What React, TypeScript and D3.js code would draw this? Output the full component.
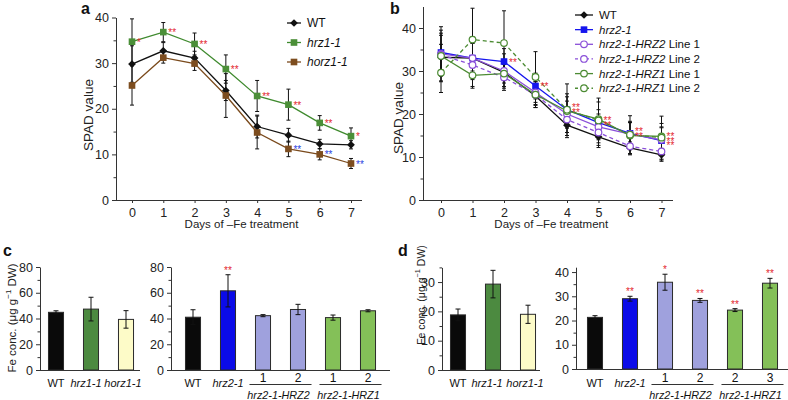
import React, { useEffect, useRef } from 'react';
import * as d3 from 'd3';

const FONT = '"Liberation Sans", Arial, Helvetica, sans-serif';
const RED = '#e3262e';
const BLUE_STAR = '#2a3fe0';

const days = [0, 1, 2, 3, 4, 5, 6, 7];

// panel a
const aWT = [29.8, 32.7, 31.1, 24.0, 16.1, 14.2, 12.3, 12.1];
const aWTErr = [4.0, 1.8, 1.5, 2.2, 2.5, 1.5, 1.0, 0.9];
const aHrz1 = [34.7, 36.8, 34.2, 28.7, 22.8, 20.9, 16.9, 14.0];
const aHrz1Err = [5.0, 2.1, 2.4, 3.1, 3.4, 3.4, 1.6, 1.8];
const aHorz1 = [25.1, 31.2, 29.9, 22.9, 14.8, 11.2, 10.0, 8.0];
const aHorz1Err = [4.3, 1.2, 1.5, 4.8, 3.6, 1.7, 1.2, 1.1];
const aHrz1Stars = ['*', '**', '**', '**', '**', '**', '**', '*'];
const aHorz1Stars = ['', '', '', '', '', '**', '**', '**'];

// panel b
const bWT = [33.2, 33.0, 29.7, 24.2, 17.4, 14.7, 12.1, 10.5];
const bWTErr = [3.0, 3.5, 2.5, 2.0, 2.9, 2.5, 1.4, 1.5];
const bHrz2 = [34.3, 33.0, 32.2, 26.5, 21.0, 18.0, 15.5, 13.8];
const bHrz2Err = [4.0, 4.0, 3.0, 3.0, 3.0, 3.0, 2.5, 3.0];
const bHRZ2L1 = [34.0, 33.0, 30.0, 25.0, 20.0, 17.0, 15.3, 14.0];
const bHRZ2L1Err = [6.3, 5.0, 4.0, 3.0, 3.0, 3.0, 3.0, 3.0];
const bHRZ2L2 = [33.8, 31.4, 28.5, 24.5, 18.7, 15.7, 12.5, 11.3];
const bHRZ2L2Err = [5.0, 5.0, 3.0, 3.0, 3.0, 3.0, 2.0, 2.0];
const bHRZ1L1 = [33.5, 29.0, 29.4, 24.5, 20.7, 18.8, 15.0, 14.8];
const bHRZ1L1Err = [6.0, 3.0, 3.0, 3.0, 4.0, 4.0, 3.0, 3.0];
const bHRZ1L2 = [29.6, 37.3, 36.5, 28.6, 21.0, 18.5, 15.2, 14.5];
const bHRZ1L2Err = [4.6, 7.3, 7.5, 5.9, 6.0, 5.2, 4.4, 5.0];
const bStarRows = [0, 0, 1, 1, 2, 2, 2, 3];

// panel c
const cLeftCats = ['WT', 'hrz1-1', 'horz1-1'];
const cLeftVals = [44.8, 47.3, 39.3];
const cLeftErr = [1.2, 9.2, 6.8];
const cRightCats = ['WT', 'hrz2-1', '1', '2', '1', '2'];
const cRightVals = [41.0, 61.5, 42.2, 47.0, 40.7, 46.0];
const cRightErr = [5.8, 12.5, 0.8, 4.0, 2.0, 0.8];
const cRightStars = ['', '**', '', '', '', ''];

// panel d
const dLeftVals = [18.8, 29.3, 19.0];
const dLeftErr = [2.0, 4.7, 3.1];
const dRightCats = ['WT', 'hrz2-1', '1', '2', '2', '3'];
const dRightVals = [21.3, 29.0, 35.8, 28.3, 24.3, 35.4];
const dRightErr = [0.7, 1.0, 3.3, 0.8, 0.6, 2.0];
const dRightStars = ['', '**', '*', '**', '**', '**'];

const leftFills = ['#0a0a0a', '#4c8a40', '#fdfbc8'];
const rightFills = ['#0a0a0a', '#0b0be8', '#9fa1dd', '#9fa1dd', '#84c058', '#84c058'];
const leftItalic = [false, true, true];
const rightItalic = [false, true, false, false, false, false];
const groups = [
  { name: 'hrz2-1-HRZ2', from: 2, to: 3 },
  { name: 'hrz2-1-HRZ1', from: 4, to: 5 },
];

type Sel = d3.Selection<SVGGElement, unknown, null, undefined>;

function drawMarker(g: Sel, kind: string, color: string, cx: number, cy: number) {
  if (kind === 'diamond') {
    g.append('path').attr('d', d3.symbol(d3.symbolSquare, 30)()!)
      .attr('transform', `translate(${cx},${cy}) rotate(45)`).attr('fill', color);
  } else if (kind === 'square') {
    g.append('path').attr('d', d3.symbol(d3.symbolSquare, 44)()!)
      .attr('transform', `translate(${cx},${cy})`).attr('fill', color);
  } else {
    g.append('circle').attr('cx', cx).attr('cy', cy).attr('r', 3.3)
      .attr('fill', 'white').attr('stroke', color).attr('stroke-width', 1.2);
  }
}

function styleAxis(ax: Sel, size = 12.5) {
  ax.attr('font-family', FONT).attr('font-size', size);
  ax.selectAll('text').attr('fill', '#222');
  ax.selectAll('line,path').attr('stroke', '#333');
}

function yAxes(svg: Sel, y: d3.ScaleLinear<number, number>, axisX: number, major: number[], minor: number[]) {
  const ax = svg.append('g').attr('transform', `translate(${axisX},0)`)
    .call(d3.axisLeft(y).tickValues(major).tickSize(4).tickSizeOuter(0).tickPadding(3));
  styleAxis(ax);
  const mn = svg.append('g').attr('transform', `translate(${axisX},0)`)
    .call(d3.axisLeft(y).tickValues(minor).tickSize(2.5).tickFormat(() => ''));
  mn.select('.domain').remove();
  styleAxis(mn);
}

function drawLinePanel(svg: Sel, cfg: any) {
  const { x, y, axisX, axisEnd, series } = cfg;
  yAxes(svg, y, axisX, [0, 10, 20, 30, 40], [5, 15, 25, 35]);
  const xa = svg.append('g').attr('transform', `translate(0,${y(0)})`)
    .call(d3.axisBottom(x).tickValues(days).tickFormat(d3.format('d')).tickSize(3).tickPadding(5));
  xa.select('.domain').remove();
  styleAxis(xa);
  svg.append('line').attr('x1', axisX).attr('x2', axisEnd).attr('y1', y(0) + 0.5).attr('y2', y(0) + 0.5)
    .attr('stroke', '#333');

  svg.append('text').attr('x', (x(0) + x(7)) / 2).attr('y', y(0) + 28).attr('text-anchor', 'middle')
    .attr('font-family', FONT).attr('font-size', 11.5).attr('fill', '#222').text('Days of \u2013Fe treatment');
  svg.append('text').attr('transform', `translate(${cfg.titleX},${cfg.titleY}) rotate(-90)`)
    .attr('text-anchor', 'middle').attr('dominant-baseline', 'central')
    .attr('font-family', FONT).attr('font-size', 13.5).attr('fill', '#222').text('SPAD value');

  // error bars
  series.forEach((s: any) => {
    days.forEach((d, i) => {
      const cx = x(d);
      const top = y(s.vals[i] + s.errs[i]);
      const bot = y(s.vals[i] - s.errs[i]);
      svg.append('line').attr('x1', cx).attr('x2', cx).attr('y1', top).attr('y2', bot).attr('stroke', '#111').attr('stroke-width', 1);
      [top, bot].forEach(yy => svg.append('line').attr('x1', cx - 2).attr('x2', cx + 2).attr('y1', yy).attr('y2', yy)
        .attr('stroke', '#111').attr('stroke-width', 1));
    });
  });
  const line = d3.line<number>().x((_, i) => x(days[i])).y(v => y(v));
  series.forEach((s: any) => {
    svg.append('path').datum(s.vals).attr('fill', 'none').attr('stroke', s.color).attr('stroke-width', 1.3)
      .attr('stroke-dasharray', s.dashed ? '4,3' : null).attr('d', line);
  });
  series.forEach((s: any) => {
    days.forEach((d, i) => drawMarker(svg, s.marker, s.markerColor || s.color, x(d), y(s.vals[i])));
  });

  // legend
  const lg = svg.append('g').attr('font-family', FONT).attr('font-size', cfg.legendFont).attr('fill', '#111');
  series.forEach((s: any, i: number) => {
    const ly = cfg.legendY + i * cfg.legendStep;
    lg.append('line').attr('x1', cfg.legendX).attr('x2', cfg.legendX + cfg.legendLen).attr('y1', ly).attr('y2', ly)
      .attr('stroke', s.color).attr('stroke-width', 1.3).attr('stroke-dasharray', s.dashed ? '3,2.5' : null);
    drawMarker(lg, s.marker, s.markerColor || s.color, cfg.legendX + cfg.legendLen / 2, ly);
    const t = lg.append('text').attr('x', cfg.legendX + cfg.legendLen + 6).attr('y', ly).attr('dominant-baseline', 'central');
    t.append('tspan').attr('font-style', s.italic ? 'italic' : 'normal').text(s.name);
    if (s.suffix) t.append('tspan').text(s.suffix);
  });
}

function drawBarPanel(svg: Sel, cfg: any) {
  const { x0, n, axisX, axisEnd, y, major, minor, vals, errs, fills, labels, italics, stars, grp } = cfg;
  const shift: number[] = cfg.labelShift || [];
  const band = d3.scaleBand<number>().domain(d3.range(n)).range([x0, x0 + n * 35]).paddingInner(0.57).paddingOuter(0.285);
  yAxes(svg, y, axisX, major, minor);
  const bw = band.bandwidth();
  vals.forEach((v: number, i: number) => {
    const bx = band(i)!;
    svg.append('rect').attr('x', bx).attr('y', y(v)).attr('width', bw).attr('height', y(0) - y(v))
      .attr('fill', fills[i]).attr('stroke', '#2a2a2a').attr('stroke-width', 1);
    const cx = bx + bw / 2;
    const top = y(v + errs[i]);
    const bot = y(v - errs[i]);
    svg.append('line').attr('x1', cx).attr('x2', cx).attr('y1', top).attr('y2', bot).attr('stroke', '#111');
    [top, bot].forEach(yy => svg.append('line').attr('x1', cx - 2.5).attr('x2', cx + 2.5).attr('y1', yy).attr('y2', yy).attr('stroke', '#111'));
    if (stars && stars[i]) {
      svg.append('text').attr('x', cx).attr('y', top - 1).attr('text-anchor', 'middle')
        .attr('font-family', FONT).attr('font-size', 10).attr('fill', RED).text(stars[i]);
    }
    const isNum = /^\d$/.test(labels[i]);
    svg.append('text').attr('x', cx + (shift[i] || 0)).attr('y', isNum ? 382 : 387).attr('text-anchor', 'middle')
      .attr('font-family', FONT).attr('font-size', isNum ? 12 : 11).attr('fill', '#111')
      .attr('font-style', italics[i] ? 'italic' : 'normal').text(labels[i]);
  });
  svg.append('line').attr('x1', axisX).attr('x2', axisEnd).attr('y1', y(0) + 0.5).attr('y2', y(0) + 0.5).attr('stroke', '#333');
  if (grp) {
    grp.forEach((g: any) => {
      const a = band(g.from)! - 6;
      const b = band(g.to)! + bw + 6;
      svg.append('line').attr('x1', a).attr('x2', b).attr('y1', 384.5).attr('y2', 384.5).attr('stroke', '#333');
      svg.append('text').attr('x', (a + b) / 2 - 2).attr('y', 399).attr('text-anchor', 'middle')
        .attr('font-family', FONT).attr('font-size', 10.8).attr('font-style', 'italic').attr('fill', '#111').text(g.name);
    });
  }
}

function feLabel(svg: Sel, cx: number, cy: number, size: number) {
  const t = svg.append('text').attr('transform', `translate(${cx},${cy}) rotate(-90)`)
    .attr('text-anchor', 'middle').attr('dy', '0.35em')
    .attr('font-family', FONT).attr('font-size', size).attr('fill', '#222');
  t.append('tspan').text('Fe conc. (\u03bcg g');
  t.append('tspan').attr('font-size', size * 0.7).attr('dy', -size * 0.4).text('\u22121');
  t.append('tspan').attr('dy', size * 0.4).text(' DW)');
}

function panelLabel(svg: Sel, x: number, y: number, s: string) {
  svg.append('text').attr('x', x).attr('y', y).attr('font-family', FONT).attr('font-size', 16)
    .attr('font-weight', 'bold').attr('fill', '#111').text(s);
}

// stacked significance marks drawn as a single text with one tspan per row
function starStack(svg: Sel, x: number, yMid: number, rows: number, text: string, color: string) {
  const t = svg.append('text').attr('font-family', FONT).attr('font-size', 10).attr('fill', color);
  for (let r = 0; r < rows; r++) {
    t.append('tspan').attr('x', x).attr('y', yMid + 4 + (r - (rows - 1) / 2) * 4.5).text(text);
  }
}

export default function App() {
  const ref = useRef<SVGSVGElement>(null);

  useEffect(() => {
    const root = d3.select(ref.current);
    root.selectAll('*').remove();
    const svg = root.append('g') as unknown as Sel;

    // ---- a ----
    const xA = d3.scaleLinear().domain([0, 7]).range([132, 351]);
    const yA = d3.scaleLinear().domain([0, 40]).range([200, 17.5]);
    drawLinePanel(svg, {
      x: xA, y: yA, axisX: 116, axisEnd: 362, titleX: 88, titleY: 115,
      legendX: 287, legendLen: 14, legendY: 23, legendStep: 19.5, legendFont: 12,
      series: [
        { name: 'WT', vals: aWT, errs: aWTErr, color: '#111', marker: 'diamond' },
        { name: 'hrz1-1', vals: aHrz1, errs: aHrz1Err, color: '#3f8a2e', markerColor: '#4b8f38', marker: 'square', italic: true },
        { name: 'horz1-1', vals: aHorz1, errs: aHorz1Err, color: '#7a4a1c', markerColor: '#7d4d1f', marker: 'square', italic: true },
      ],
    });
    days.forEach((d, i) => {
      if (aHrz1Stars[i]) starStack(svg, xA(d) + 5, yA(aHrz1[i]), 1, aHrz1Stars[i], RED);
      if (aHorz1Stars[i]) starStack(svg, xA(d) + 5, yA(aHorz1[i]), 1, aHorz1Stars[i], BLUE_STAR);
    });
    panelLabel(svg, 81, 14, 'a');

    // ---- b ----
    const xB = d3.scaleLinear().domain([0, 7]).range([441, 661.5]);
    const yB = d3.scaleLinear().domain([0, 45]).range([200, 6.5]);
    drawLinePanel(svg, {
      x: xB, y: yB, axisX: 423, axisEnd: 673, titleX: 398, titleY: 118,
      legendX: 575, legendLen: 18, legendY: 15, legendStep: 14.65, legendFont: 11.5,
      series: [
        { name: 'WT', vals: bWT, errs: bWTErr, color: '#111', marker: 'diamond' },
        { name: 'hrz2-1', vals: bHrz2, errs: bHrz2Err, color: '#1616ee', marker: 'square', italic: true },
        { name: 'hrz2-1-HRZ2', suffix: ' Line 1', vals: bHRZ2L1, errs: bHRZ2L1Err, color: '#8a4fd8', marker: 'circle', italic: true },
        { name: 'hrz2-1-HRZ2', suffix: ' Line 2', vals: bHRZ2L2, errs: bHRZ2L2Err, color: '#8a4fd8', marker: 'circle', italic: true, dashed: true },
        { name: 'hrz2-1-HRZ1', suffix: ' Line 1', vals: bHRZ1L1, errs: bHRZ1L1Err, color: '#4c8b33', marker: 'circle', italic: true },
        { name: 'hrz2-1-HRZ1', suffix: ' Line 2', vals: bHRZ1L2, errs: bHRZ1L2Err, color: '#4c8b33', marker: 'circle', italic: true, dashed: true },
      ],
    });
    days.forEach((d, i) => {
      if (bStarRows[i] > 0) starStack(svg, xB(d) + 5, yB(bHrz2[i]), bStarRows[i], '**', RED);
    });
    panelLabel(svg, 390, 14, 'b');

    // ---- c ----
    const yC = d3.scaleLinear().domain([0, 80]).range([370, 267]);
    drawBarPanel(svg, {
      x0: 38.5, n: 3, axisX: 40, axisEnd: 140, y: yC, major: [0, 20, 40, 60, 80], minor: [10, 30, 50, 70],
      vals: cLeftVals, errs: cLeftErr, fills: leftFills, labels: cLeftCats, italics: leftItalic,
      labelShift: [0, -5, -3],
    });
    drawBarPanel(svg, {
      x0: 175.5, n: 6, axisX: 171, axisEnd: 390, y: yC, major: [0, 20, 40, 60, 80], minor: [10, 30, 50, 70],
      vals: cRightVals, errs: cRightErr, fills: rightFills, labels: cRightCats, italics: rightItalic,
      stars: cRightStars, grp: groups,
    });
    feLabel(svg, 12, 318, 11.5);
    panelLabel(svg, 3, 256, 'c');

    // ---- d ----
    const yDL = d3.scaleLinear().domain([0, 35]).range([370, 267.4]);
    drawBarPanel(svg, {
      x0: 440.5, n: 3, axisX: 442, axisEnd: 540, y: yDL, major: [0, 10, 20, 30], minor: [5, 15, 25, 35],
      vals: dLeftVals, errs: dLeftErr, fills: leftFills, labels: cLeftCats, italics: leftItalic,
      labelShift: [0, -6, -3],
    });
    const yDR = d3.scaleLinear().domain([0, 42]).range([369, 267.2]);
    drawBarPanel(svg, {
      x0: 577.5, n: 6, axisX: 576, axisEnd: 788, y: yDR, major: [0, 10, 20, 30, 40], minor: [5, 15, 25, 35],
      vals: dRightVals, errs: dRightErr, fills: rightFills, labels: dRightCats, italics: rightItalic,
      stars: dRightStars, grp: groups,
    });
    feLabel(svg, 421, 295, 10.5);
    panelLabel(svg, 398, 256, 'd');
  }, []);

  return (
    <div style={{ position: 'absolute', left: 0, top: 0, width: 788, height: 400, background: 'white' }}>
      <svg ref={ref} width={788} height={400} style={{ display: 'block' }} />
    </div>
  );
}
